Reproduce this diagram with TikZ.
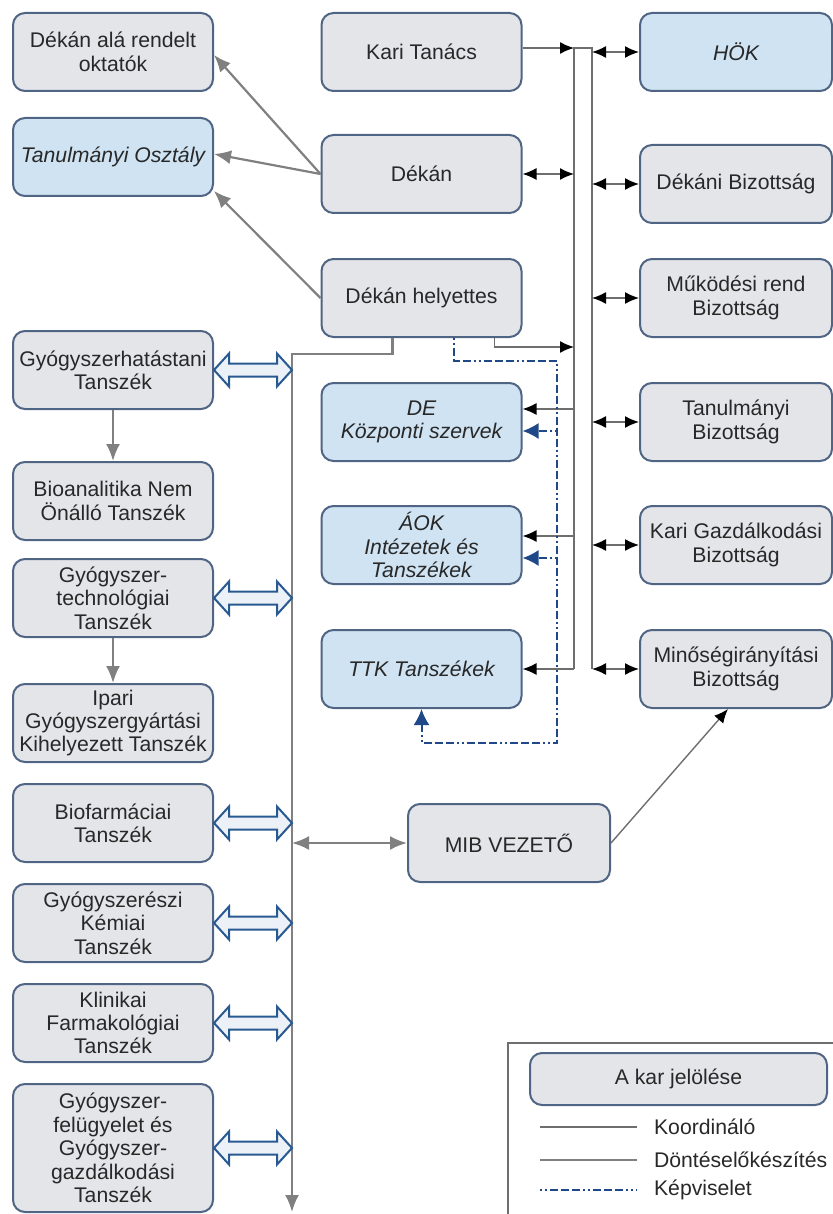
\documentclass[tikz,border=0pt]{standalone}
\usepackage{fontspec}
\setmainfont{Liberation Sans}
\usetikzlibrary{arrows.meta,positioning}

\definecolor{boxgray}{RGB}{228,229,233}
\definecolor{boxblue}{RGB}{207,227,243}
\definecolor{boxline}{RGB}{80,100,132}
\definecolor{txt}{RGB}{40,40,40}
\definecolor{busgray}{RGB}{110,110,110}
\definecolor{arrgray}{RGB}{128,128,128}
\definecolor{kblue}{RGB}{30,72,135}
\definecolor{hblue}{RGB}{40,90,145}
\definecolor{hfill}{RGB}{236,241,248}

\begin{document}
\begin{tikzpicture}[x=0.5pt,y=-0.5pt,
    box/.style={draw=boxline,fill=boxgray,line width=1pt,rounded corners=6pt,
      minimum width=100pt,minimum height=39pt,align=center,inner sep=2pt,
      text=txt,font=\fontsize{10.6}{11.7}\selectfont},
    ubox/.style={box,fill=boxblue,font=\fontsize{10.6}{11.7}\selectfont\itshape},
    rbox/.style={box,minimum width=96pt},
    koord/.style={draw=busgray,line width=0.7pt},
    kar/.style={koord,-{Latex[length=7pt,width=6pt,color=black]}},
    kboth/.style={koord,{Latex[length=7pt,width=6pt,color=black]}-{Latex[length=7pt,width=6pt,color=black]}},
    dont/.style={draw=arrgray,line width=1.1pt},
    dar/.style={dont,-{Latex[length=8.5pt,width=7pt]}},
    dboth/.style={dont,{Latex[length=8.5pt,width=7pt]}-{Latex[length=8.5pt,width=7pt]}},
    kepv/.style={draw=kblue,line width=1pt,
      dash pattern=on 1pt off 1.5pt on 1pt off 1.5pt on 4pt off 1.5pt on 4pt off 1.5pt on 4pt off 1.5pt},
    kepvar/.style={kepv,-{Latex[length=8pt,width=8pt]}},
    hollow/.style={draw=hblue,fill=hfill,line width=1pt,line join=miter},
    legtext/.style={anchor=west,text=txt,font=\fontsize{10.6}{11.7}\selectfont}]

    \useasboundingbox (0,0) rectangle (833,1214);

    % bal oszlop
    \node[box] (okt) at (113,52) {Dékán alá rendelt\\oktatók};
    \node[ubox] (tanoszt) [below=12.5pt of okt] {Tanulmányi Osztály};
    \node[box] (hatas) [below=66.5pt of tanoszt] {Gyógyszerhatástani\\Tanszék};
    \node[box] (bioan) [below=25.5pt of hatas] {Bioanalitika Nem\\Önálló Tanszék};
    \node[box] (techn) [below=8.5pt of bioan] {Gyógyszer-\\technológiai\\Tanszék};
    \node[box] (ipari) [below=22.5pt of techn] {Ipari\\Gyógyszergyártási\\Kihelyezett Tanszék};
    \node[box] (biofarm) [below=10pt of ipari] {Biofarmáciai\\Tanszék};
    \node[box] (kemiai) [below=10pt of biofarm] {Gyógyszerészi\\Kémiai\\Tanszék};
    \node[box] (klin) [below=10pt of kemiai] {Klinikai\\Farmakológiai\\Tanszék};
    \node[box,minimum height=64pt] (felug) [below=10pt of klin] {Gyógyszer-\\felügyelet és\\Gyógyszer-\\gazdálkodási\\Tanszék};

    % kozepso oszlop
    \node[box] (karitan) at (421.5,52) {Kari Tanács};
    \node[box] (dekan) [below=21pt of karitan] {Dékán};
    \node[box] (helyet) [below=22pt of dekan] {Dékán helyettes};
    \node[ubox] (dekoz) [below=22pt of helyet] {DE\\Központi szervek};
    \node[ubox] (aok) [below=21.5pt of dekoz] {ÁOK\\Intézetek és\\Tanszékek};
    \node[ubox] (ttk) [below=22pt of aok] {TTK Tanszékek};
    \node[box,minimum width=101pt] (mib) at (509,843) {MIB VEZETŐ};

    % jobb oszlop
    \node[ubox,minimum width=96pt] (hok) at (736,52) {HÖK};
    \node[rbox] (dekbiz) [below=26pt of hok] {Dékáni Bizottság};
    \node[rbox] (mukbiz) [below=17pt of dekbiz] {Működési rend\\Bizottság};
    \node[rbox] (tanbiz) [below=22pt of mukbiz] {Tanulmányi\\Bizottság};
    \node[rbox] (gazdbiz) [below=21.5pt of tanbiz] {Kari Gazdálkodási\\Bizottság};
    \node[rbox] (minbiz) [below=22pt of gazdbiz] {Minőségirányítási\\Bizottság};

    \coordinate (busL) at (574,0);
    \coordinate (busR) at (592,0);
    \coordinate (trunk) at (292,1212);
    \coordinate (kepvT) at (557,361);
    \coordinate (kepvB) at (557,743);

    % koordinalo
    \draw[koord] (ttk.east -| busL) -- ([yshift=2pt]karitan.east -| busL) -- ([yshift=2pt]karitan.east -| busR) -- (minbiz.west -| busR);
    \draw[kar] ([yshift=2pt]karitan.east) -- ([yshift=2pt]karitan.east -| busL);
    \draw[kboth] (dekan.east) -- (dekan.east -| busL);
    \draw[kar] ([xshift=-14pt]helyet.south east) |- ([yshift=-4.5pt]helyet.south -| busL);
    \draw[kar] ([yshift=6.5pt]dekoz.east -| busL) -- ([yshift=6.5pt]dekoz.east);
    \draw[kar] ([yshift=4.5pt]aok.east -| busL) -- ([yshift=4.5pt]aok.east);
    \draw[kar] (ttk.east -| busL) -- (ttk.east);
    \foreach \n in {hok,dekbiz,mukbiz,tanbiz,gazdbiz,minbiz}
      \draw[kboth] (\n.west -| busR) -- (\n.west);
    \draw[kar] (mib.east) -- ([xshift=-4pt]minbiz.south);

    % donteselokeszites
    \draw[dar] (dekan.west) -- ([yshift=-1.5pt]okt.east);
    \draw[dar] (dekan.west) -- ([yshift=1.5pt]tanoszt.east);
    \draw[dar] (helyet.west) -- ([yshift=3pt]tanoszt.south east);
    \draw[dar] ([xshift=-14.5pt]helyet.south) |- ([yshift=-8pt]helyet.south -| trunk) -- (trunk);
    \draw[dar] (hatas) -- (bioan);
    \draw[dar] (techn) -- (ipari);
    \draw[dboth] (mib.west -| trunk) -- (mib.west);
    \foreach \n in {hatas,techn,biofarm,kemiai,klin,felug}{
      \coordinate (ha) at (\n.east);
      \coordinate (hb) at (\n.east -| trunk);
      \draw[hollow] (ha) -- ([xshift=7.5pt,yshift=8.25pt]ha) -- ([xshift=7.5pt,yshift=3.25pt]ha)
        -- ([xshift=-7.5pt,yshift=3.25pt]hb) -- ([xshift=-7.5pt,yshift=8.25pt]hb) -- (hb)
        -- ([xshift=-7.5pt,yshift=-8.25pt]hb) -- ([xshift=-7.5pt,yshift=-3.25pt]hb)
        -- ([xshift=7.5pt,yshift=-3.25pt]ha) -- ([xshift=7.5pt,yshift=-8.25pt]ha) -- cycle;
    }

    % kepviselet
    \draw[kepvar] ([xshift=16pt]helyet.south) |- (kepvT) -- (kepvB) -| (ttk.south);
    \draw[kepvar] ([yshift=-4.5pt]dekoz.east -| kepvT) -- ([yshift=-4.5pt]dekoz.east);
    \draw[kepvar] ([yshift=-6.5pt]aok.east -| kepvT) -- ([yshift=-6.5pt]aok.east);

    % jelmagyarazat
    \coordinate (legBL) at (508,1214);
    \coordinate (legTR) at (833,1043);
    \draw[draw=busgray,line width=0.7pt] (legBL) |- (legTR);
    \node[box,minimum width=148.5pt,minimum height=26pt] (legkar) at (678.5,1079) {A kar jelölése};
    \coordinate (l1) at (540,1127);
    \coordinate (l2) at (540,1160);
    \coordinate (l3) at (540,1190);
    \node[legtext] (t1) at (647,1127) {Koordináló};
    \node[legtext] (t2) at (647,1160) {Döntéselőkészítés};
    \node[legtext] (t3) at (647,1190) {Képviselet};
    \draw[koord] (l1) -- ([xshift=-5pt]t1.west);
    \draw[dont] (l2) -- ([xshift=-5pt]t2.west);
    \draw[kepv] (l3) -- ([xshift=-5pt]t3.west);
\end{tikzpicture}
\end{document}
